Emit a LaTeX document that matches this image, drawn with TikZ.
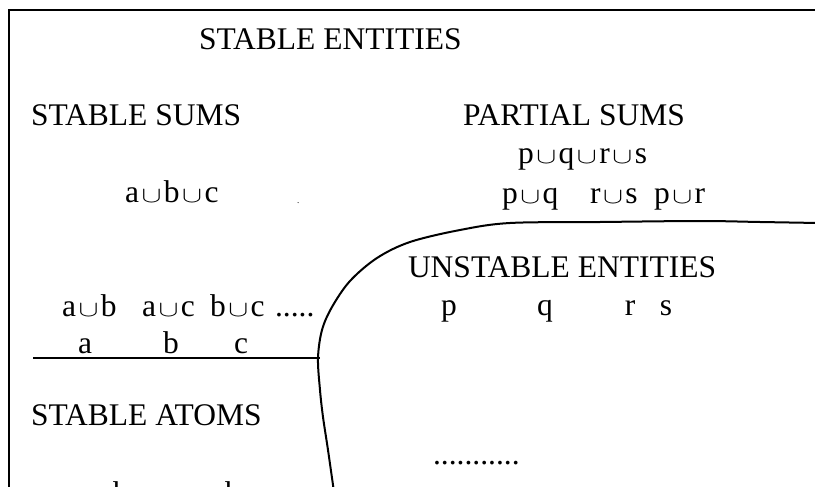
\documentclass[tikz,border=0pt]{standalone}
\usepackage{fontspec}
\usepackage{graphicx}
\setmainfont{Liberation Serif}
\newcommand{\un}{\kern0.08em\scalebox{1.2}[0.9]{$\cup$}\kern0.08em}
\tikzset{
  txt/.style={inner sep=0pt, outer sep=0pt, anchor=base west, font=\fontsize{31.5}{36}\selectfont},
  ctr/.style={txt, anchor=base},
  border/.style={line width=2pt},
  divider/.style={line width=1.4pt},
}
\begin{document}
\begin{tikzpicture}[x=1pt,y=-1pt]
\useasboundingbox (0,0) rectangle (815,487);
% frame
\coordinate (tl) at (9,10);
\coordinate (tr) at (817,10);
\coordinate (bl) at (9,490);
\draw[border] (tr) -- (tl) -- (bl);
% dividing curve
\draw[border, line cap=round] plot[smooth, tension=0.55] coordinates {
  (818,223) (760,222) (700,221) (600,222) (510,223) (460,230) (410,242)
  (377,258) (350,281) (332,307) (322,330) (318,358) (320,390) (323,417)
  (328,450) (334,492)};
% horizontal divider
\coordinate (hl) at (33,358);
\coordinate (hr) at (320,358);
\draw[divider] (hl) -- (hr);
% texts
\node[txt] (se) at (199,50) {STABLE ENTITIES};
\node[txt] (ss) at (31,125) {STABLE SUMS};
\node[txt] (ps) at (463,125) {PARTIAL SUMS};
\node[txt] (pqrs) at (518,163) {p\un q\un r\un s};
\node[txt] (pq) at (502,204) {p\un q};
\node[txt] (rs) at (590,204) {r\un s};
\node[txt] (pr) at (654,204) {p\un r};
\node[txt] (abc) at (125,202) {a\un b\un c};
\node[txt, font=\fontsize{9}{10}\selectfont] (dot) at (297,203) {.};
\node[txt] (ab) at (62,316) {a\un b};
\node[txt] (ac) at (142,316) {a\un c};
\node[txt] (bc) at (210,316) {b\un c};
\node[txt] (dd) at (275,316) {.....};
\node[ctr] (a) at (85,353) {a};
\node[ctr] (b) at (171,353) {b};
\node[ctr] (c) at (241,353) {c};
\node[txt] (sa) at (31,425) {STABLE ATOMS};
\node[txt] (ue) at (408,277) {UNSTABLE ENTITIES};
\node[ctr] (p) at (449,315) {p};
\node[ctr] (q) at (545,315) {q};
\node[ctr] (r) at (630,315) {r};
\node[ctr] (s) at (666,315) {s};
\node[txt] (ud) at (433,464) {...........};
\node[ctr] (b1) at (121,503) {b};
\node[ctr] (b2) at (233,503) {b};
\end{tikzpicture}
\end{document}
